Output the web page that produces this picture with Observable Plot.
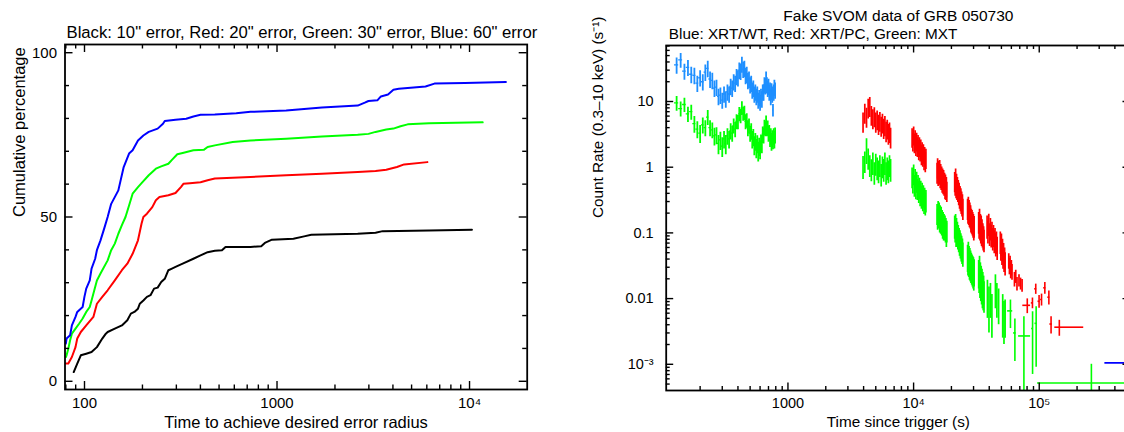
<!DOCTYPE html>
<html><head><meta charset="utf-8">
<script src="https://cdn.jsdelivr.net/npm/d3@7"></script>
<script src="https://cdn.jsdelivr.net/npm/@observablehq/plot@0.6"></script>
<style>
html,body{margin:0;padding:0;background:#fff;width:1124px;height:432px;overflow:hidden;}
#wrap{position:relative;width:1124px;height:432px;overflow:hidden;background:#fff;}
#wrap svg{position:absolute;top:0;max-width:none !important;}
</style></head><body><div id="wrap"></div>
<script>
// ================= LEFT PANEL DATA =================
const leftTitle = "Black: 10\" error, Red: 20\" error, Green: 30\" error, Blue: 60\" error";
const leftXLabel = "Time to achieve desired error radius";
const leftYLabel = "Cumulative percentage";
const leftXTicks = [100, 1000, 10000];
const leftXTickLabels = ["100", "1000", "10⁴"];
const leftYTicks = [0, 50, 100];
const leftYTickLabels = ["0", "50", "100"];
const leftXMinor = [80, 90, 200, 300, 400, 500, 600, 700, 800, 900, 2000, 3000, 4000, 5000, 6000, 7000, 8000, 9000];
const leftYMinor = [10, 20, 30, 40, 60, 70, 80, 90];

// [time (s), cumulative %]
const black10 = [[87.9,2.8],[91.7,5.4],[95.7,7.9],[102.1,8.4],[108.8,8.9],[116,10.4],[123.7,13],[129.1,14.5],[131.9,15],[143.7,16],[156.4,17],[166.9,18.6],[174.1,20.6],[181.6,21.1],[189.6,22.1],[193.7,23.6],[202.2,24.6],[211,25.7],[220.2,26.2],[229.8,28.2],[239.9,28.5],[250.3,30.2],[261.2,31.2],[272.7,33.8],[284.6,34.3],[297,34.8],[323.6,35.8],[367.8,37.3],[400.6,38.3],[436.1,39.3],[475.3,39.7],[517.6,39.9],[540.2,40.9],[728.4,40.9],[827.9,41.1],[864.5,42.1],[941.3,43.1],[1216.6,43.4],[1383,44.1],[1506,44.6],[2624,44.9],[3250,45.2],[3538,45.7],[6166,45.9],[10290,46.1]];
const red20 = [[80,5.4],[82.4,5.4],[86,7.4],[89.8,10.4],[91.7,13],[95.7,15],[102.1,17],[111.2,19.6],[116,23.6],[123.7,25.7],[131.9,27.7],[143.7,30.7],[156.4,33.8],[166.9,35.8],[177.8,38.8],[189.6,42.9],[197.9,48],[202.2,50],[211,51],[225,53],[234.8,55.1],[245.1,56.1],[272.7,56.6],[297,57.3],[316.7,59.1],[326.3,60.1],[352.4,60.3],[400.6,60.6],[436.1,61.2],[475.3,61.7],[728.4,62.2],[1116,62.7],[1712,63.2],[2624,63.7],[3250,64],[3693,64.4],[4198,65.2],[4575,66],[6037,66.7]];
const green30 = [[80,7.4],[80.7,7.9],[82.4,9.9],[84.2,12.5],[86,14.5],[89.8,16],[93.7,17.5],[97.8,19.1],[102.1,21.1],[106.5,22.6],[108.8,24.6],[113.6,28.7],[116,30.7],[121.1,32.8],[131.9,36.8],[137.6,39.9],[143.7,41.9],[149.9,44.9],[156.4,47.5],[163.3,50],[170.4,53.5],[177.8,57.1],[189.6,59.1],[197.9,60.3],[215.6,62.7],[234.8,64.7],[250.3,65.4],[272.7,66.2],[284.6,67.4],[303.4,69.1],[323.6,69.5],[367.8,70.3],[417.9,70.5],[436.1,71.3],[475.3,71.8],[588.3,72.8],[728.4,73.3],[1116,73.8],[1712,74.5],[2624,75],[2985,75.3],[3250,75.9],[3693,76.6],[4023,76.9],[4382,77.6],[4772,78.2],[6166,78.5],[11700,78.8]];
const blue60 = [[80,11.5],[80.7,13],[84.2,14],[86,17],[89.8,19.6],[91.7,21.1],[97.8,22.6],[99.9,25.7],[102.1,28.2],[106.5,30.7],[108.8,34.3],[113.6,37.3],[116,39.9],[121.1,42.9],[126.4,46.4],[131.9,50],[137.6,54],[149.9,58.1],[159.8,65.2],[170.4,69.3],[177.8,70.3],[189.6,73.3],[202.2,74.8],[215.6,75.9],[239.9,76.9],[255.7,78.4],[261.2,79.2],[297,79.6],[337.6,79.9],[367.8,80.6],[400.6,81.1],[475.3,81.2],[614,81.6],[728.4,82],[1116,82.4],[1712,83.3],[2624,83.9],[2858,84.8],[2985,85.3],[3320,85.5],[3465,86.7],[3773,87.3],[4023,88.7],[4290,89],[5907,89.7],[6573,90.6],[9452,90.8],[15450,91.1]];

// ================= RIGHT PANEL DATA =================
const rightTitle = "Fake SVOM data of GRB 050730";
const rightSubtitle = "Blue: XRT/WT, Red: XRT/PC, Green: MXT";
const rightXLabel = "Time since trigger (s)";
const rightYLabel = "Count Rate (0.3–10 keV) (s⁻¹)";
const rightXTicks = [1000, 10000, 100000];
const rightXTickLabels = ["1000", "10⁴", "10⁵"];
const rightYTicks = [0.001, 0.01, 0.1, 1, 10];
const rightYTickLabels = ["10⁻³", "0.01", "0.1", "1", "10"];
const rightXMinor = [200,300,400,500,600,700,800,900,2000,3000,4000,5000,6000,7000,8000,9000,20000,30000,40000,50000,60000,70000,80000,90000,200000,300000,400000,500000];
const minorMultipliers = [2,3,4,5,6,7,8,9];
const minorDecades = [0.0001, 0.001, 0.01, 0.1, 1, 10];

// XRT/WT: [time, rate, error]
const wtHalfBin = 5;
const wtBlue = [[130,36,10],[140,43,11],[150,29,8],[160,33,9],[170,26,7.3],[180,25,7],[190,19,5.3],[200,23,6.4],[210,20,5.6],[220,28,7.8],[230,32,9],[240,22,6.2],[250,21,5.9],[260,16,4.5],[270,16.5,4.6],[280,12,3.4],[290,12.5,3.5],[300,10.5,2.9],[310,13,3.6],[320,11,3.1],[330,14,3.9],[340,13,3.6],[350,17,4.8],[360,16,4.5],[370,20,5.6],[380,19,5.3],[390,24,6.7],[400,23,6.4],[410,30,8.4],[420,29,8.1],[430,37,10],[440,31,8.7],[450,32,9],[460,25,7],[470,26,7.3],[480,21,5.9],[490,22,6.2],[500,18,5],[510,19,5.3],[520,15,4.2],[530,16,4.5],[540,13,3.6],[550,14,3.9],[560,12,3.4],[570,13,3.6],[580,10.5,2.9],[590,11.5,3.2],[600,9.8,2.7],[610,12,3.4],[620,11,3.1],[630,14,3.9],[640,14,3.9],[650,18,5],[660,17.5,4.9],[670,22,6.2],[680,18,5],[690,16,4.5],[700,17,4.8],[710,14,3.9],[720,15,4.2],[730,12,3.4],[740,14.5,4.1],[750,13,3.6],[760,7.4,1.6],[770,14,3.9],[780,16.5,4.6],[790,15,4.2]];
// MXT during WT interval: [time, rate, error]
const mxtEarly = [[130,9.5,2.4],[140,7.8,2],[150,9,2.2],[160,6.5,1.7],[170,7,1.8],[180,4.6,1.3],[190,3.8,1.1],[200,3.3,1],[210,4.4,1.2],[220,4,1.1],[230,5.8,1.5],[240,4,1.1],[250,3.7,1],[260,3,0.9],[270,3.1,0.9],[280,2.3,0.75],[290,2.6,0.8],[300,2.1,0.7],[310,2.7,0.8],[320,2.3,0.75],[330,3,0.85],[340,2.7,0.8],[350,3.6,1],[360,3.3,0.9],[370,4.3,1.1],[380,3.8,1],[390,5,1.3],[400,4.9,1.2],[410,6.5,1.6],[420,6.1,1.5],[430,8,1.9],[440,6.6,1.6],[450,6.8,1.7],[460,5,1.3],[470,5.2,1.3],[480,4,1.1],[490,4.3,1.1],[500,3.3,0.9],[510,3.6,1],[520,2.7,0.8],[530,2.9,0.85],[540,2.2,0.7],[550,2.5,0.75],[560,2,0.65],[570,2.3,0.7],[580,1.8,0.6],[590,2.1,0.65],[600,1.9,0.6],[610,2.4,0.7],[620,2.3,0.7],[630,3.2,0.9],[640,3.1,0.85],[650,4.1,1.1],[660,3.9,1],[670,4.8,1.2],[680,3.9,1],[690,4,1.05],[700,3.3,0.9],[710,3.4,0.9],[720,2.8,0.8],[730,3,0.85],[740,2.5,0.75],[750,2.8,0.8],[760,2.6,0.75],[770,3,0.85],[780,2.7,0.8],[790,3.1,0.85]];
// XRT/PC: [time, rate, error]
const pcRed = [[3960,5.0,1.7],[4090,6.8,2.3],[4220,5.9,2.0],[4350,8.1,2.7],[4480,8.6,2.9],[4610,6.3,2.1],[4740,5.6,1.9],[4870,6.0,2.0],[5000,5.0,1.7],[5130,5.4,1.8],[5260,4.6,1.55],[5390,5.1,1.7],[5520,4.3,1.45],[5650,4.8,1.6],[5780,4.0,1.35],[5910,4.4,1.5],[6040,3.6,1.25],[6170,3.9,1.3],[6300,3.3,1.15],[6430,3.5,1.2],[6560,2.9,1.0],
[9730,2.9,0.95],[9870,2.5,0.8],[10010,3.1,1.0],[10150,2.4,0.8],[10290,2.7,0.9],[10430,2.2,0.75],[10570,2.5,0.8],[10710,2.1,0.7],[10850,2.3,0.75],[10990,1.9,0.65],[11130,2.1,0.7],[11270,1.8,0.6],[11410,1.95,0.65],[11550,1.6,0.55],[11690,1.75,0.6],[11830,1.5,0.5],[11970,1.65,0.55],[12110,1.35,0.47],[12250,1.5,0.5],[12390,1.25,0.43],[12530,1.4,0.48],
[15380,0.85,0.3],[15530,1.0,0.34],[15680,0.78,0.27],[15830,0.92,0.31],[15980,0.8,0.27],[16130,0.95,0.32],[16280,0.72,0.25],[16430,0.82,0.28],[16580,0.68,0.24],[16730,0.75,0.26],[16880,0.62,0.22],[17030,0.7,0.24],[17180,0.58,0.2],[17330,0.66,0.23],[17480,0.55,0.19],[17630,0.6,0.21],[17780,0.5,0.18],[17930,0.56,0.2],[18080,0.47,0.16],[18230,0.52,0.18],[18380,0.44,0.15],
[21240,0.62,0.21],[21420,0.55,0.19],[21600,0.7,0.24],[21780,0.5,0.17],[21960,0.58,0.2],[22140,0.48,0.17],[22320,0.52,0.18],[22500,0.44,0.15],[22680,0.47,0.16],[22860,0.4,0.14],[23040,0.42,0.15],[23220,0.36,0.13],[23400,0.38,0.13],[23580,0.33,0.12],[23760,0.35,0.12],[23940,0.3,0.11],[24120,0.31,0.11],[24300,0.27,0.095],[24480,0.28,0.1],[24660,0.24,0.085],
[26900,0.24,0.085],[27090,0.21,0.075],[27280,0.26,0.09],[27470,0.2,0.07],[27660,0.23,0.08],[27850,0.19,0.07],[28040,0.21,0.075],[28230,0.18,0.065],[28420,0.19,0.07],[28610,0.16,0.06],[28800,0.17,0.06],[28990,0.15,0.055],[29180,0.16,0.06],[29370,0.14,0.05],[29560,0.15,0.055],[29750,0.13,0.047],[29940,0.14,0.05],[30130,0.12,0.045],[30320,0.13,0.047],
[32960,0.15,0.055],[33220,0.13,0.05],[33480,0.17,0.06],[33740,0.12,0.045],[34000,0.14,0.05],[34260,0.11,0.042],[34520,0.13,0.05],[34780,0.1,0.038],[35040,0.115,0.043],[35300,0.095,0.036],[35560,0.1,0.038],[35820,0.085,0.032],[36080,0.09,0.034],[36340,0.08,0.03],
[38450,0.13,0.05],[39050,0.11,0.042],[39650,0.14,0.052],[40250,0.1,0.038],[40850,0.12,0.045],[41450,0.095,0.036],[42050,0.105,0.04],[42650,0.085,0.032],[43250,0.095,0.035],[43850,0.078,0.03],[44450,0.085,0.032],[45050,0.07,0.027],[45650,0.075,0.028],[46250,0.062,0.024],
[49000,0.075,0.028],[49500,0.06,0.023],[50000,0.07,0.026],[50500,0.052,0.02],[51000,0.058,0.022],[51500,0.045,0.017],[52000,0.05,0.019],[52500,0.04,0.015],[53000,0.043,0.016],[53500,0.036,0.014],
[57200,0.038,0.01],[57900,0.032,0.009],[58600,0.035,0.009],[59300,0.028,0.008],[60000,0.03,0.008],[60700,0.026,0.007],
[63500,0.02,0.005],[65000,0.022,0.005],[66500,0.017,0.004],[69000,0.019,0.004],[71000,0.017,0.0035],[73000,0.016,0.0035]];
// XRT/PC binned late points: [time, rate, error, tStart, tEnd]
const pcCross = [[80300,0.0079,0.002,74000,85300],[88300,0.0086,0.0016,86500,90000],[93800,0.0141,0.0025,92000,95500],[99700,0.0091,0.002,97800,101500],[104300,0.0097,0.002,102500,106000],[110800,0.0146,0.003,108500,113000],[119300,0.0105,0.0025,117000,121500],[124200,0.0041,0.0012,121500,127000],[144500,0.00367,0.001,133000,226000]];
// MXT during PC interval: [time, rate, error]
const mxtLate = [[3960,1.05,0.4],[4090,1.25,0.45],[4220,1.9,0.8],[4350,1.4,0.5],[4480,1.1,0.4],[4610,0.95,0.35],[4740,1.2,0.45],[4870,0.85,0.32],[5000,1.15,0.42],[5130,1.0,0.38],[5260,0.9,0.34],[5390,1.1,0.4],[5520,0.8,0.3],[5650,1.05,0.38],[5780,0.95,0.36],[5910,1.2,0.45],[6040,0.85,0.32],[6170,1.0,0.38],[6300,0.9,0.34],[6430,1.1,0.4],[6560,0.95,0.36],
[9730,0.72,0.25],[9870,0.6,0.21],[10010,0.8,0.28],[10150,0.55,0.2],[10290,0.68,0.24],[10430,0.5,0.18],[10570,0.62,0.22],[10710,0.48,0.17],[10850,0.55,0.2],[10990,0.44,0.16],[11130,0.5,0.18],[11270,0.4,0.15],[11410,0.45,0.16],[11550,0.37,0.14],[11690,0.42,0.15],[11830,0.34,0.13],[11970,0.38,0.14],[12110,0.31,0.12],[12250,0.35,0.13],[12390,0.29,0.11],[12530,0.32,0.12],
[15380,0.2,0.07],[15530,0.17,0.06],[15680,0.22,0.08],[15830,0.18,0.065],[15980,0.21,0.075],[16130,0.16,0.06],[16280,0.19,0.07],[16430,0.15,0.055],[16580,0.18,0.065],[16730,0.14,0.05],[16880,0.16,0.06],[17030,0.13,0.05],[17180,0.15,0.055],[17330,0.12,0.045],[17480,0.14,0.05],[17630,0.12,0.045],[17780,0.13,0.05],[17930,0.11,0.04],[18080,0.12,0.045],[18230,0.1,0.04],[18380,0.11,0.04],
[21240,0.13,0.05],[21420,0.11,0.04],[21600,0.14,0.05],[21780,0.1,0.04],[21960,0.12,0.045],[22140,0.095,0.035],[22320,0.105,0.04],[22500,0.088,0.033],[22680,0.095,0.035],[22860,0.08,0.03],[23040,0.085,0.032],[23220,0.072,0.028],[23400,0.078,0.03],[23580,0.066,0.026],[23760,0.07,0.027],[23940,0.06,0.024],[24120,0.064,0.025],[24300,0.055,0.022],[24480,0.058,0.023],[24660,0.05,0.02],
[26900,0.045,0.02],[27090,0.04,0.018],[27280,0.05,0.022],[27470,0.037,0.016],[27660,0.043,0.019],[27850,0.035,0.016],[28040,0.04,0.018],[28230,0.033,0.015],[28420,0.037,0.016],[28610,0.031,0.014],[28800,0.034,0.015],[28990,0.029,0.013],[29180,0.032,0.014],[29370,0.028,0.013],[29560,0.03,0.014],[29750,0.026,0.012],[29940,0.029,0.013],[30130,0.025,0.012],[30320,0.027,0.012],
[32960,0.026,0.012],[33220,0.022,0.01],[33480,0.03,0.014],[33740,0.019,0.009],[34000,0.024,0.011],[34260,0.017,0.008],[34520,0.021,0.01],[34780,0.016,0.008],[35040,0.019,0.009],[35300,0.014,0.007],[35560,0.017,0.008],[35820,0.013,0.0065],[36080,0.015,0.007],[36340,0.012,0.006],
[38700,0.012,0.007],[39800,0.009,0.006],[40900,0.011,0.006],[42000,0.007,0.0045],[44800,0.015,0.008],[46000,0.011,0.006],[47500,0.009,0.005],
[51200,0.007,0.0045],[52400,0.0055,0.0035],[53500,0.006,0.0035]];
// MXT binned late points: [time, rate, error, tStart, tEnd]
const mxtCross = [[59000,0.0065,0.003,56000,61500],[64000,0.003,0.0019,62500,65500],[75500,0.0027,0.0026,68500,85300],[88500,0.0035,0.0028,87000,90000],[94500,0.0042,0.0033,92500,96500],[260000,0.00052,0.00048,97000,500000]];
// late XRT/WT-style point: [time, rate, error, tStart, tEnd]
const wtLate = [[700000,0.00105,0.00002,333000,2000000]];

// ================= DRAWING =================
const FONT = "'Liberation Sans', Arial, Helvetica, sans-serif";
const wrap = document.getElementById("wrap");

// inward ticks on all four frame sides, as rules inset to a fixed pixel length
function frameTicks(xs, ys, len, W, H) {
  const s = {stroke: "#000", strokeWidth: 1.4};
  return [
    Plot.ruleX(xs, {x: d => d, insetTop: H - len, ...s}),
    Plot.ruleX(xs, {x: d => d, insetBottom: H - len, ...s}),
    Plot.ruleY(ys, {y: d => d, insetRight: W - len, ...s}),
    Plot.ruleY(ys, {y: d => d, insetLeft: W - len, ...s})
  ];
}

// ---------- Left plot ----------
const L = {w: 560, h: 432, ml: 64.5, mr: 33.3, mt: 44, mb: 43};
const LW = L.w - L.ml - L.mr, LH = L.h - L.mt - L.mb;
const leftSeries = [[black10, "#000000"], [red20, "#ff0000"], [green30, "#00ff00"], [blue60, "#0000ff"]];
const left = Plot.plot({
  width: L.w, height: L.h,
  marginLeft: L.ml, marginRight: L.mr, marginTop: L.mt, marginBottom: L.mb,
  x: {type: "log", domain: [79.2, 19930]},
  y: {domain: [-2.5, 102.5]},
  style: {fontFamily: FONT, fontSize: "15px", background: "transparent", color: "#000"},
  marks: [
    ...leftSeries.map(([rows, c]) => Plot.line(rows, {x: d => d[0], y: d => d[1], stroke: c, strokeWidth: 2, clip: true})),
    ...frameTicks(leftXTicks, leftYTicks, 8, LW, LH),
    ...frameTicks(leftXMinor, leftYMinor, 4.5, LW, LH),
    Plot.frame({stroke: "#000", strokeWidth: 1.8}),
    Plot.axisX({anchor: "bottom", ticks: leftXTicks, tickSize: 0, tickPadding: 7.5, label: null, fontSize: 15,
      tickFormat: d => leftXTickLabels[leftXTicks.indexOf(d)]}),
    Plot.axisY({anchor: "left", ticks: leftYTicks, tickSize: 0, tickPadding: 8, label: null, fontSize: 15,
      tickFormat: d => leftYTickLabels[leftYTicks.indexOf(d)]}),
    Plot.text([leftTitle], {text: d => d, frameAnchor: "top-left", textAnchor: "start", lineAnchor: "bottom", dx: 1.5, dy: -6.7, fontSize: 16.7}),
    Plot.text([leftXLabel], {text: d => d, frameAnchor: "bottom", lineAnchor: "top", dy: 26.3, fontSize: 16.5}),
    Plot.text([leftYLabel], {text: d => d, frameAnchor: "left", rotate: -90, lineAnchor: "middle", dx: -45.5, fontSize: 16.5})
  ]
});
left.style.left = "0px";
wrap.appendChild(left);

// ---------- Right plot ----------
const R = {w: 600, h: 432, ml: 95.7, mr: 40, mt: 45, mb: 42};
const RW = R.w - R.ml - R.mr, RH = R.h - R.mt - R.mb;
const yMinorR = minorDecades.flatMap(dec => minorMultipliers.map(m => m * dec)).filter(v => v > 0.0004 && v < 71);
const lo = d => Math.max(d[1] - d[2], 1e-6);
const hi = d => d[1] + d[2];
function vbars(rows, color, w) {
  return Plot.ruleX(rows, {x: d => d[0], y1: lo, y2: hi, stroke: color, strokeWidth: w, clip: true});
}
function hbars(rows, color, w) {
  return Plot.ruleY(rows, {y: d => d[1], x1: d => d[3], x2: d => d[4], stroke: color, strokeWidth: w, clip: true});
}
const WT = "#1e8fff", PC = "#ff0000", MXT = "#00ff00";
const right = Plot.plot({
  width: R.w, height: R.h,
  marginLeft: R.ml, marginRight: R.mr, marginTop: R.mt, marginBottom: R.mb,
  x: {type: "log", domain: [107.4, 532500]},
  y: {type: "log", domain: [0.000399, 71.2]},
  style: {fontFamily: FONT, fontSize: "14.5px", background: "transparent", color: "#000"},
  marks: [
    vbars(mxtEarly, MXT, 1.8),
    Plot.ruleY(mxtEarly, {y: d => d[1], x1: d => d[0] - wtHalfBin, x2: d => d[0] + wtHalfBin, stroke: MXT, strokeWidth: 1.3, clip: true}),
    vbars(wtBlue, WT, 1.8),
    Plot.ruleY(wtBlue, {y: d => d[1], x1: d => d[0] - wtHalfBin, x2: d => d[0] + wtHalfBin, stroke: WT, strokeWidth: 1.3, clip: true}),
    vbars(mxtLate, MXT, 1.7),
    vbars(mxtCross, MXT, 1.6),
    hbars(mxtCross, MXT, 1.6),
    vbars(pcRed, PC, 1.7),
    vbars(pcCross, PC, 1.6),
    hbars(pcCross, PC, 1.6),
    vbars(wtLate, "#0000ff", 1.6),
    hbars(wtLate, "#0000ff", 1.6),
    ...frameTicks(rightXTicks, rightYTicks, 7.5, RW, RH),
    ...frameTicks(rightXMinor, yMinorR, 4, RW, RH),
    Plot.frame({stroke: "#000", strokeWidth: 1.8}),
    Plot.axisX({anchor: "bottom", ticks: rightXTicks, tickSize: 0, tickPadding: 7.5, label: null, fontSize: 14.5,
      tickFormat: d => rightXTickLabels[rightXTicks.indexOf(d)]}),
    Plot.axisY({anchor: "left", ticks: rightYTicks, tickSize: 0, tickPadding: 12.5, label: null, fontSize: 14.5,
      tickFormat: d => rightYTickLabels[rightYTicks.indexOf(d)]}),
    Plot.text([rightTitle], {text: d => d, frameAnchor: "top", lineAnchor: "bottom", dy: -25, fontSize: 15.5}),
    Plot.text([rightSubtitle], {text: d => d, frameAnchor: "top-left", textAnchor: "start", lineAnchor: "bottom", dx: 2.6, dy: -6.7, fontSize: 15.3}),
    Plot.text([rightXLabel], {text: d => d, frameAnchor: "bottom", lineAnchor: "top", dy: 25.4, fontSize: 15.3}),
    Plot.text([rightYLabel], {text: d => d, frameAnchor: "left", rotate: -90, lineAnchor: "middle", dx: -68, fontSize: 15.3})
  ]
});
right.style.left = "570px";
wrap.appendChild(right);
</script>
</body></html>
